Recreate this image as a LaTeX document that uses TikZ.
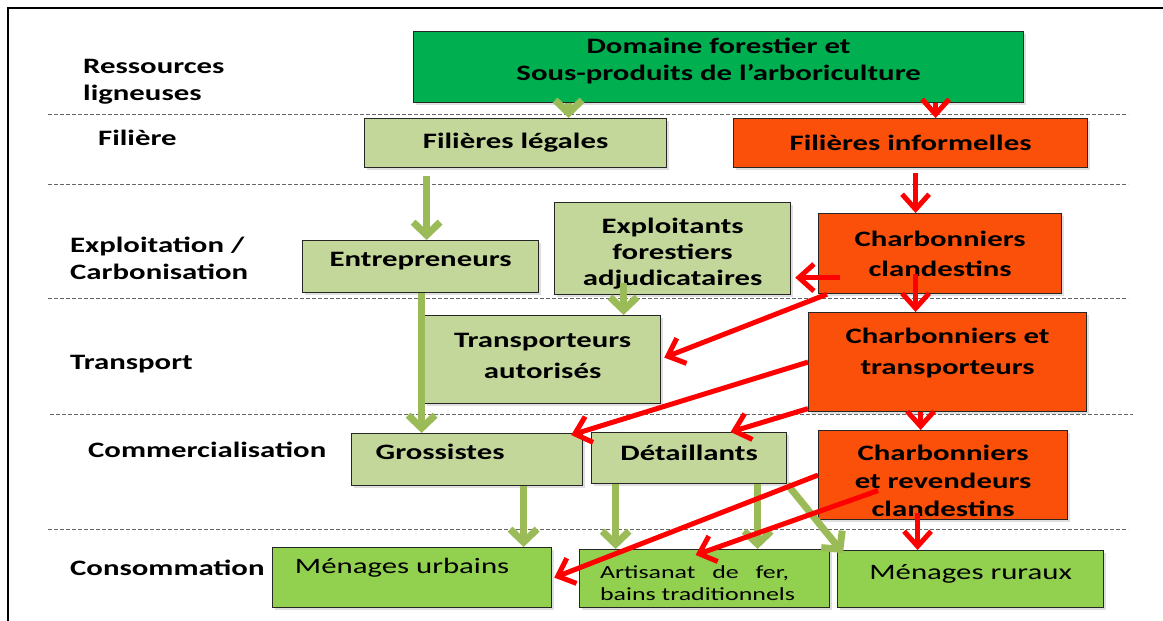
\documentclass[tikz,border=0pt]{standalone}
\usepackage{fontspec}
\setmainfont{Carlito}[FakeStretch=1.4]
\usetikzlibrary{arrows.meta,shadows}
\definecolor{dgreen}{RGB}{0,176,80}
\definecolor{lgreen}{RGB}{196,215,155}
\definecolor{orng}{RGB}{250,80,10}
\definecolor{bgreen}{RGB}{146,208,80}
\definecolor{agreen}{RGB}{155,187,89}
\definecolor{ared}{RGB}{255,0,0}
\pgfdeclarelayer{bg}
\pgfsetlayers{bg,main}
\begin{document}
\begin{tikzpicture}[x=1pt,y=-1pt,
  box/.style={draw=black!85, line width=1.2pt, anchor=north west, inner sep=0pt,
    align=center, font=\fontsize{22}{27}\selectfont\bfseries,
    drop shadow={shadow xshift=2pt, shadow yshift=-2pt, opacity=0.25}},
  rbox/.style={box, font=\fontsize{22}{27}\selectfont},
  lab/.style={inner sep=0pt, align=left, font=\fontsize{22}{27}\selectfont\bfseries},
  sep/.style={draw=black!60, line width=0.8pt, dash pattern=on 4pt off 2pt},
  garrow/.style={draw=agreen, line width=7pt, -{Straight Barb[length=13pt,width=27pt]}},
  rarrow/.style={draw=ared, line width=5pt, -{Straight Barb[length=15pt,width=27pt]}}]
\useasboundingbox (0,0) rectangle (1163,621);
\fill[white] (0,0) rectangle (1163,621);
\draw[line width=2.2pt] (8,621) -- (8,8) -- (1163,8);

% separators
\draw[sep] (48,114) -- (1128,114);
\draw[sep] (48,184) -- (1128,184);
\draw[sep] (48,298) -- (1128,298);
\draw[sep] (50,414) -- (1133,414);
\draw[sep] (48,529) -- (1128,529);

% left labels
\node[lab, anchor=west] (l1) at (83,82) {Ressources\\ligneuses};
\node[lab, anchor=base west] (l2) at (98,145) {Filière};
\node[lab, anchor=west] (l3) at (70,258) {Exploitation /\\Carbonisation};
\node[lab, anchor=base west] (l4) at (70,369) {Transport};
\node[lab, anchor=base west] (l5) at (88,457) {Commercialisation};
\node[lab, anchor=base west] (l6) at (70,575) {Consommation};

% boxes
\node[box, fill=dgreen, minimum width=610, minimum height=71, text depth=15pt] (dom) at (413,31) {Domaine forestier et\\Sous-produits de l’arboriculture};
\node[box, fill=lgreen, minimum width=302, minimum height=49] (fl) at (364,118) {Filières légales};
\node[box, fill=orng, minimum width=354, minimum height=49] (fi) at (733,118) {Filières informelles};
\node[box, fill=lgreen, minimum width=236, minimum height=52, text depth=14pt] (ent) at (302,240) {Entrepreneurs};
\node[box, fill=lgreen, minimum width=236, minimum height=92, font=\fontsize{22}{26}\selectfont\bfseries] (exp) at (554,202) {\rule{0pt}{26pt}Exploitants\\forestiers\\adjudicataires};
\node[box, fill=orng, minimum width=243, minimum height=80, font=\fontsize{22}{30}\selectfont\bfseries] (cc) at (818,213) {Charbonniers\\clandestins};
\node[box, fill=lgreen, minimum width=236, minimum height=88, font=\fontsize{22}{31}\selectfont\bfseries, text depth=8pt] (tra) at (424,315) {Transporteurs\\autorisés};
\node[box, fill=orng, minimum width=278, minimum height=99, font=\fontsize{22}{31}\selectfont\bfseries, text depth=22pt] (ct) at (808,312) {Charbonniers et\\transporteurs};
\node[box, fill=lgreen, minimum width=231, minimum height=52, text depth=15pt] (gro) at (351,433) {\hspace*{-54pt}Grossistes};
\node[box, fill=lgreen, minimum width=195, minimum height=51, text depth=10pt] (det) at (591,432) {Détaillants};
\node[box, fill=orng, minimum width=249, minimum height=89, font=\fontsize{22}{28}\selectfont\bfseries] (rev) at (818,430) {\rule{0pt}{26pt}Charbonniers\\et revendeurs\\clandestins};
\node[rbox, fill=bgreen, minimum width=279, minimum height=60, text depth=23pt] (mu) at (272,547) {\hspace*{-20pt}Ménages urbains};
\node[rbox, fill=bgreen, minimum width=250, minimum height=58, align=left, font=\fontsize{18.5}{22}\selectfont] (art) at (579,549) {\rule{0pt}{21pt}\makebox[189pt][s]{Artisanat de fer,}\hspace*{20pt}\\bains traditionnels};
\node[rbox, fill=bgreen, minimum width=266, minimum height=57, text depth=15pt] (mr) at (837,550) {Ménages ruraux};

% green arrow passing behind Entrepreneurs
\begin{pgfonlayer}{bg}
\draw[garrow] ([xshift=4pt,yshift=-8pt]fl.south) -- ([xshift=-23pt]tra.north);
\end{pgfonlayer}

% green arrows
\draw[garrow] ([xshift=-150pt]dom.south) -- ([xshift=53pt]fl.north);
\draw[garrow] ([xshift=-89pt,yshift=-8pt]fl.south) -- ([xshift=6pt]ent.north);
\draw[garrow] ([xshift=-49pt,yshift=12pt]exp.south) -- ([xshift=81pt]tra.north);
\draw[garrow] ([xshift=1pt]ent.south) -- ([xshift=-45.5pt]gro.north);
\draw[garrow] ([xshift=56.5pt]gro.south) -- ([xshift=111.5pt]mu.north);
\draw[garrow] ([xshift=-73.5pt]det.south) -- ([xshift=-89pt]art.north);
\draw[garrow] ([xshift=68.5pt]det.south) -- ([xshift=53pt]art.north);
\draw[garrow] (det.south east) -- ([xshift=6pt,yshift=-3pt]mr.north west);

% red arrows
\draw[rarrow] ([xshift=217pt]dom.south) -- ([xshift=25pt]fi.north);
\draw[rarrow] ([xshift=5pt,yshift=-5pt]fi.south) -- ([xshift=-24.5pt]cc.north);
\draw[rarrow] ([xshift=22pt,yshift=-24pt]cc.west) -- ([xshift=4pt,yshift=-29pt]exp.east);
\draw[rarrow] ([xshift=-24.5pt,yshift=20pt]cc.south) -- ([xshift=-32pt]ct.north);
\draw[rarrow] ([xshift=9pt]cc.south west) -- ([xshift=3pt,yshift=2pt]tra.east);
\draw[rarrow] (ct.west) -- ([xshift=-12pt,yshift=-2pt]gro.north east);
\draw[rarrow] ([yshift=-46.5pt]ct.west) -- ([xshift=41.5pt]det.north);
\draw[rarrow] ([xshift=-27pt]ct.south) -- ([xshift=-22.5pt]rev.north);
\draw[rarrow] (rev.west) -- ([xshift=2pt]mu.east);
\draw[rarrow] ([xshift=60pt,yshift=-15.5pt]rev.west) -- ([xshift=-9pt,yshift=-6pt]art.north);
\draw[rarrow] ([xshift=-25.5pt,yshift=7pt]rev.south) -- ([xshift=-53pt]mr.north);
\end{tikzpicture}
\end{document}
